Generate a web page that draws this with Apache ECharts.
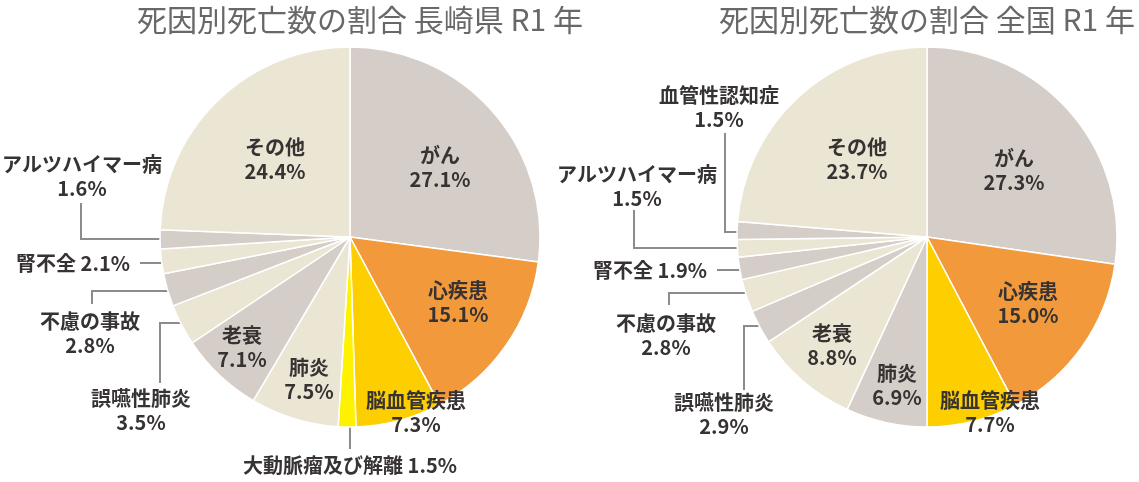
<!DOCTYPE html>
<html><head><meta charset="utf-8">
<script src="https://cdn.jsdelivr.net/npm/echarts@6/dist/echarts.min.js"></script>
<style>html,body{margin:0;padding:0;background:#fff}#c{width:1139px;height:482px}</style>
</head><body><div id="c"></div>
<script>
// ---- data ----
const titleLeft = '死因別死亡数の割合 長崎県 R1 年';
const titleRight = '死因別死亡数の割合 全国 R1 年';
const namesLeft = ['がん','心疾患','脳血管疾患','大動脈瘤及び解離','肺炎','老衰','誤嚥性肺炎','不慮の事故','腎不全','アルツハイマー病','その他'];
const valuesLeft = [27.1,15.1,7.3,1.5,7.5,7.1,3.5,2.8,2.1,1.6,24.4];
const namesRight = ['がん','心疾患','脳血管疾患','肺炎','老衰','誤嚥性肺炎','不慮の事故','腎不全','アルツハイマー病','血管性認知症','その他'];
const valuesRight = [27.3,15.0,7.7,6.9,8.8,2.9,2.8,1.9,1.5,1.5,23.7];

// ---- styles ----
const G='#d5cdc8', C='#ebe5d4', O='#f2993b', Y='#fdcf00', Y2='#fff200';
const colorsLeft = [G,O,Y,Y2,C,G,C,G,C,G,C];
const colorsRight = [G,O,Y,G,C,G,C,G,C,G,C];
const singleLine = {'大動脈瘤及び解離':1,'腎不全':1};
// label placement (block centre) and leader lines
const layoutLeft = [
  {x:440,y:167},{x:458,y:302},{x:416,y:412},
  {x:350,y:465,line:[[350,420],[350,434],[350,449]]},
  {x:309,y:379},{x:242,y:347},
  {x:141,y:410,line:[[192,323],[160,323],[160,383]]},
  {x:90,y:333,line:[[182,291],[92,291],[92,304]]},
  {x:73,y:263,line:[[171,263],[156,263],[140,263]]},
  {x:82,y:176,line:[[170,239],[81,239],[81,203]]},
  {x:275,y:159}
];
const layoutRight = [
  {x:1014,y:170},{x:1028,y:303},{x:990,y:412},{x:897,y:385},{x:832,y:345},
  {x:724,y:414,line:[[776,326],[744,326],[744,390]]},
  {x:666,y:335,line:[[758,293],[669,293],[669,305]]},
  {x:650,y:270,line:[[742,270],[730,270],[717,270]]},
  {x:637,y:186,line:[[749,248],[634,248],[634,210]]},
  {x:719,y:107,line:[[749,232],[725,232],[725,133]]},
  {x:857,y:159}
];

function buildData(names, values, colors, layout){
  return names.map((n,i)=>({
    name:n, value:values[i],
    itemStyle:{color:colors[i]},
    labelLine:{show:!!layout[i].line, lineStyle:{color:'#8c8c8c', width:2}}
  }));
}
function makeSeries(names, values, colors, layout, cx){
  return {
    type:'pie', center:[cx,237], radius:190, startAngle:90, clockwise:true,
    avoidLabelOverlap:false, silent:true, animation:false,
    itemStyle:{borderColor:'#fff', borderWidth:1.5},
    label:{show:true, position:'outside', color:'#363332', fontSize:20, fontWeight:'bold',
      fontFamily:'"Noto Sans CJK JP", sans-serif', lineHeight:24, align:'center',
      formatter:p=> singleLine[p.name] ? p.name+' '+p.value.toFixed(1)+'%' : p.name+'\n'+p.value.toFixed(1)+'%'},
    labelLine:{show:true},
    labelLayout:function(params){
      const L = layout[params.dataIndex];
      const r = {x:L.x, y:L.y, align:'center', verticalAlign:'middle'};
      if (L.line) r.labelLinePoints = L.line;
      return r;
    },
    data:buildData(names, values, colors, layout)
  };
}
const chart = echarts.init(document.getElementById('c'), null, {renderer:'canvas'});
const tStyle = {color:'#686868', fontSize:30, fontWeight:'normal', fontFamily:'"Noto Sans CJK JP", sans-serif'};
chart.setOption({
  backgroundColor:'#fff',
  title:[
    {text:titleLeft, left:355, top:0, textAlign:'center', textStyle:tStyle},
    {text:titleRight, left:922, top:0, textAlign:'center', textStyle:tStyle}
  ],
  series:[
    makeSeries(namesLeft, valuesLeft, colorsLeft, layoutLeft, 350),
    makeSeries(namesRight, valuesRight, colorsRight, layoutRight, 927)
  ]
});
</script></body></html>
